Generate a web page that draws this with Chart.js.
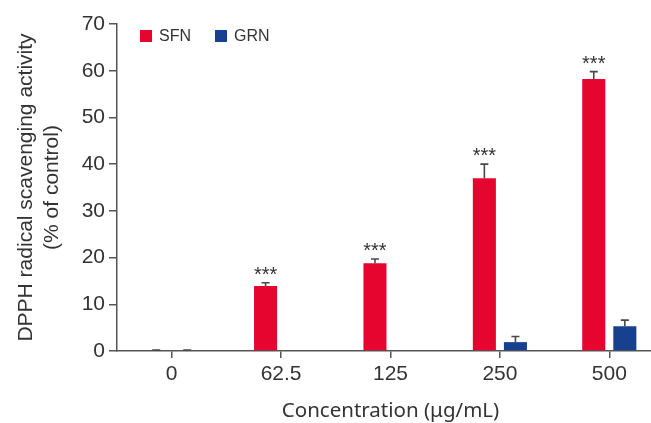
<!DOCTYPE html>
<html><head><meta charset="utf-8">
<script src="https://cdn.jsdelivr.net/npm/chart.js@4.4.1/dist/chart.umd.min.js"></script>
<style>
html,body{margin:0;padding:0;overflow:hidden;background:#fff;width:651px;height:423px}
#wrap{position:absolute;left:0;top:0;width:664px;height:423px}
</style>
</head><body><div id="wrap"><canvas id="c" width="664" height="423"></canvas></div>
<script>
const categories = ['0', '62.5', '125', '250', '500'];
const seriesNames = ['SFN', 'GRN'];
const sfnValues = [0, 13.9, 18.8, 37.0, 58.2];
const sfnErrors = [0.2, 0.7, 0.9, 3.0, 1.6];
const grnValues = [0, 0, 0, 1.9, 5.3];
const grnErrors = [0.2, null, null, 1.2, 1.3];
const sfnSignificance = ['', '***', '***', '***', '***'];
const yMin = 0, yMax = 70, yStep = 10;

const RED = '#E5052F', BLUE = '#17408F', INK = '#333333', AXIS = '#555555';

const bg = {
  id: 'bg',
  beforeDraw(chart) {
    const c = chart.ctx; c.save(); c.fillStyle = '#fff';
    c.fillRect(0, 0, chart.width, chart.height); c.restore();
  }
};

const errorBars = {
  id: 'errorBars',
  afterDatasetsDraw(chart) {
    const ctx = chart.ctx, ys = chart.scales.y;
    const errSets = [sfnErrors, grnErrors];
    const sigSets = [sfnSignificance, []];
    ctx.save();
    ctx.strokeStyle = '#484848';
    ctx.lineWidth = 1.6;
    chart.data.datasets.forEach((ds, di) => {
      const meta = chart.getDatasetMeta(di);
      meta.data.forEach((bar, i) => {
        const e = errSets[di][i];
        if (e == null) return;
        const v = ds.data[i];
        const x = bar.x, y0 = ys.getPixelForValue(v), y1 = ys.getPixelForValue(v + e);
        ctx.beginPath();
        ctx.moveTo(x, y0); ctx.lineTo(x, y1);
        ctx.moveTo(x - 4, y1); ctx.lineTo(x + 4, y1);
        ctx.stroke();
        const s = sigSets[di][i];
        if (s) {
          ctx.fillStyle = INK;
          ctx.font = '20px "Liberation Sans", Arial, sans-serif';
          ctx.textAlign = 'center';
          ctx.textBaseline = 'alphabetic';
          ctx.fillText(s, x, y1 - 2);
        }
      });
    });
    ctx.restore();
  }
};

const legendBox = {
  id: 'legendBox',
  afterDraw(chart) {
    const ctx = chart.ctx, a = chart.chartArea;
    const items = [[seriesNames[0], RED, 23], [seriesNames[1], BLUE, 98]];
    ctx.save();
    ctx.font = '16px "Liberation Sans", Arial, sans-serif';
    ctx.textBaseline = 'middle';
    ctx.textAlign = 'left';
    items.forEach(([t, col, dx]) => {
      const x = a.left + dx, y = a.top + 6;
      ctx.fillStyle = col;
      ctx.fillRect(x, y, 12, 12);
      ctx.fillStyle = INK;
      ctx.fillText(t, x + 19, y + 6.5);
    });
    ctx.restore();
  }
};

new Chart(document.getElementById('c'), {
  type: 'bar',
  data: {
    labels: categories,
    datasets: [
      { label: seriesNames[0], data: sfnValues, backgroundColor: RED, borderWidth: 0 },
      { label: seriesNames[1], data: grnValues, backgroundColor: BLUE, borderWidth: 0 }
    ]
  },
  options: {
    responsive: false,
    animation: false,
    devicePixelRatio: 1,
    categoryPercentage: 0.568,
    barPercentage: 0.742,
    layout: { padding: { top: 24, left: 0, right: 0, bottom: 0 } },
    plugins: { legend: { display: false }, tooltip: { enabled: false } },
    scales: {
      x: {
        offset: true,
        grid: { offset: false, drawOnChartArea: false, drawTicks: true, tickLength: 7, color: AXIS, lineWidth: 1.5 },
        border: { color: AXIS, width: 1.5 },
        ticks: { color: INK, padding: 4, font: { family: '"Liberation Sans", Arial, sans-serif', size: 21 } },
        title: {
          display: true, text: 'Concentration (μg/mL)', color: INK,
          font: { family: '"Noto Sans", sans-serif', size: 20.5 },
          padding: { top: 0, bottom: 0 }
        },
        afterFit(s) { s.height = 72; }
      },
      y: {
        min: yMin, max: yMax,
        grid: { drawOnChartArea: false, drawTicks: true, tickLength: 8, color: AXIS, lineWidth: 1.5 },
        border: { color: AXIS, width: 1.5 },
        ticks: { stepSize: yStep, color: INK, padding: 4, font: { family: '"Liberation Sans", Arial, sans-serif', size: 21 } },
        title: {
          display: true, text: ['DPPH radical scavenging activity', '(% of control)'], color: INK,
          font: { family: '"Liberation Sans", Arial, sans-serif', size: 21, lineHeight: 1.2 },
          padding: { top: 14, bottom: 0 }
        },
        afterFit(s) { s.width = 117; }
      }
    }
  },
  plugins: [bg, errorBars, legendBox]
});
</script>
</body></html>
